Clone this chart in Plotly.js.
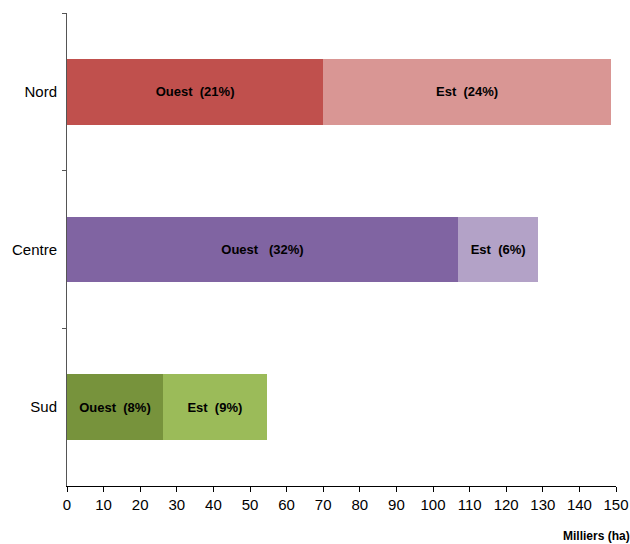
<!DOCTYPE html>
<html>
<head>
<meta charset="utf-8">
<script src="https://cdn.plot.ly/plotly-3.0.1.min.js"></script>
<style>html,body{margin:0;padding:0;background:#fff;}#chart{width:630px;height:544px;}</style>
</head>
<body>
<div id="chart"></div>
<script>
const regions = ["Nord", "Centre", "Sud"];
const ouestValues = [70, 106.8, 26.2];
const estValues = [78.6, 22, 28.4];
const ouestLabels = ["Ouest\u00a0\u00a0(21%)", "Ouest\u00a0\u00a0\u00a0(32%)", "Ouest\u00a0\u00a0(8%)"];
const estLabels = ["Est\u00a0\u00a0(24%)", "Est\u00a0\u00a0(6%)", "Est\u00a0\u00a0(9%)"];
const ouestColors = ["#C0504D", "#8064A2", "#77933C"];
const estColors = ["#D99694", "#B3A2C7", "#9BBB59"];
const xTicks = [0,10,20,30,40,50,60,70,80,90,100,110,120,130,140,150];

const FONT = "'Liberation Sans Narrow', 'Arial Narrow', 'Liberation Sans', Arial, sans-serif";

const textFont = {family: FONT, size: 13, color: "#000", weight: "bold"};

const traces = [
  {type: "bar", orientation: "h", name: "Ouest", y: regions, x: ouestValues,
   text: ouestLabels, textposition: "inside", insidetextanchor: "middle",
   textfont: textFont, marker: {color: ouestColors}, hoverinfo: "x+y"},
  {type: "bar", orientation: "h", name: "Est", y: regions, x: estValues,
   text: estLabels, textposition: "inside", insidetextanchor: "middle",
   textfont: textFont, marker: {color: estColors}, hoverinfo: "x+y"}
];

const layout = {
  width: 630, height: 544,
  margin: {l: 67, r: 14, t: 13, b: 58},
  barmode: "stack",
  bargap: 0.585,
  showlegend: false,
  paper_bgcolor: "#fff", plot_bgcolor: "#fff",
  font: {family: FONT, size: 15, color: "#000"},
  xaxis: {
    range: [0, 150], tickvals: xTicks, ticktext: xTicks.map(String),
    showgrid: false, zeroline: false, showline: true, linecolor: "#000", linewidth: 1,
    ticks: "outside", ticklen: 5, tickcolor: "#000",
    tickfont: {family: FONT, size: 15, color: "#000"}, fixedrange: true
  },
  yaxis: {
    type: "category", categoryorder: "array", categoryarray: regions,
    autorange: "reversed", tickson: "boundaries",
    showgrid: false, zeroline: false, showline: true, linecolor: "#555", linewidth: 1,
    ticks: "outside", ticklen: 4, tickcolor: "#555", ticklabelstandoff: 6,
    tickfont: {family: FONT, size: 15, color: "#000"}, fixedrange: true
  },
  annotations: [{
    text: "Milliers (ha)", xref: "paper", yref: "paper", x: 1.03, y: 0, xanchor: "right", yanchor: "top",
    yshift: -41, showarrow: false, font: {family: FONT, size: 12, color: "#000", weight: "bold"}
  }]
};

Plotly.newPlot("chart", traces, layout, {displayModeBar: false, staticPlot: true});
</script>
</body>
</html>
